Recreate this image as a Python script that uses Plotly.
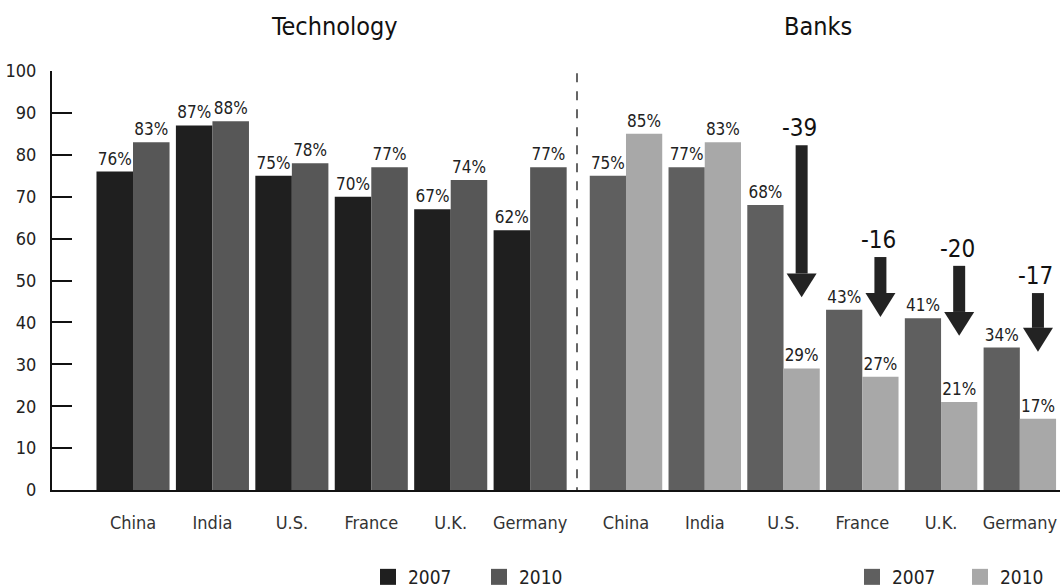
import plotly.graph_objects as go

# Share of respondents (%) by country, 2007 vs 2010
countries = ["China", "India", "U.S.", "France", "U.K.", "Germany"]
tech_2007 = [76, 87, 75, 70, 67, 62]
tech_2010 = [83, 88, 78, 77, 74, 77]
bank_2007 = [75, 77, 68, 43, 41, 34]
bank_2010 = [85, 83, 29, 27, 21, 17]

# Drop arrows over the bank bars (label, top of shaft, arrow tip on the y scale)
drop_countries = ["U.S.", "France", "U.K.", "Germany"]
drop_labels = ["-39", "-16", "-20", "-17"]
drop_top = [82.3, 55.6, 53.5, 47.0]
drop_tip = [46.0, 41.3, 36.8, 33.0]

FONT = ("Liberation Sans Narrow, Noto Sans Condensed, Noto Sans SemiCondensed, "
        "DejaVu Sans Condensed, Roboto Condensed, Arial Narrow, Roboto, sans-serif")
C_T07, C_T10 = "#1f1f1f", "#575757"
C_B07, C_B10 = "#5f5f5f", "#a8a8a8"
BARGAP = 0.08

W, H = 1060, 588
ML, MR, MT, MB = 52, 0, 71, 98
PW = W - ML - MR
PH = H - MT - MB
SPLIT = (577 - ML) / PW  # paper x where the two panels meet


def px(x):
    """pixel column -> paper x"""
    return (x - ML) / PW


def py(y):
    """pixel row -> paper y"""
    return (H - MB - y) / PH


fig = go.Figure()


def add_bars(vals, name, color, xaxis, legend):
    fig.add_trace(go.Bar(
        x=countries, y=vals, name=name, xaxis=xaxis, yaxis="y",
        marker=dict(color=color, line=dict(width=0)),
        text=[f"{v}%" for v in vals], textposition="outside",
        texttemplate="%{text}", constraintext="none", cliponaxis=False,
        textfont=dict(family=FONT, size=17, color="#222"),
        showlegend=False,
    ))
    # legend swatch
    fig.add_trace(go.Scatter(
        x=[None], y=[None], mode="markers", name=name, xaxis=xaxis, yaxis="y",
        marker=dict(symbol="square", size=20, color=color), legend=legend,
    ))


add_bars(tech_2007, "2007", C_T07, "x", "legend")
add_bars(tech_2010, "2010", C_T10, "x", "legend")
add_bars(bank_2007, "2007", C_B07, "x2", "legend2")
add_bars(bank_2010, "2010", C_B10, "x2", "legend2")

axis_common = dict(
    type="category", showline=True, linecolor="#111", linewidth=2,
    showgrid=False, zeroline=False, ticks="", ticklabelstandoff=15,
    tickfont=dict(family=FONT, size=18, color="#333"), anchor="y",
)

# where the 2010 bar sits inside each group
off_2010 = (1 - BARGAP) / 4
head_len = 5.7  # arrowhead length in y units
shapes = [dict(type="line", xref="paper", yref="y", x0=SPLIT, x1=SPLIT, y0=-1.5, y1=100,
               line=dict(color="#333", width=1.5, dash="dash"))]
annotations = [
    dict(text="Technology", xref="paper", yref="paper", x=px(334), y=py(26),
         xanchor="center", yanchor="middle", showarrow=False,
         font=dict(family=FONT, size=25, color="#111")),
    dict(text="Banks", xref="paper", yref="paper", x=px(818), y=py(26),
         xanchor="center", yanchor="middle", showarrow=False,
         font=dict(family=FONT, size=25, color="#111")),
]
for c, lab, top, tip in zip(drop_countries, drop_labels, drop_top, drop_tip):
    xa = countries.index(c) + off_2010
    hs = tip + head_len
    shapes.append(dict(type="rect", xref="x2", yref="y", xsizemode="pixel", xanchor=xa,
                       x0=-6, x1=6, y0=hs, y1=top, fillcolor="#232323", line=dict(width=0)))
    shapes.append(dict(type="path", xref="x2", yref="y", xsizemode="pixel", xanchor=xa,
                       path=f"M -15,{hs} L 15,{hs} L 0,{tip} Z",
                       fillcolor="#232323", line=dict(width=0)))
    annotations.append(dict(text=lab, xref="x2", yref="y", x=xa, y=top,
                            xanchor="center", yanchor="bottom",
                            xshift=-2, yshift=1, showarrow=False,
                            font=dict(family=FONT, size=24, color="#111")))

legend_common = dict(orientation="h", yanchor="middle", xanchor="left",
                     font=dict(family=FONT, size=19, color="#222"),
                     bgcolor="rgba(0,0,0,0)", itemwidth=30, entrywidthmode="pixels")

fig.update_layout(
    width=W, height=H, autosize=False,
    margin=dict(l=ML, r=MR, t=MT, b=MB, autoexpand=False),
    paper_bgcolor="white", plot_bgcolor="white",
    barmode="group", bargap=BARGAP, bargroupgap=0,
    xaxis=dict(domain=[0, SPLIT], range=[-1.02, 5.59], **axis_common),
    xaxis2=dict(domain=[SPLIT, 1], range=[-0.622, 5.51], **axis_common),
    yaxis=dict(range=[0, 100], dtick=10, showline=True, linecolor="#111", linewidth=2,
               ticks="inside", ticklen=20, tickwidth=2, tickcolor="#111",
               showgrid=False, zeroline=False, ticklabelstandoff=10,
               tickfont=dict(family=FONT, size=18, color="#222")),
    legend=dict(x=px(368), y=py(577), entrywidth=66, **legend_common),
    legend2=dict(x=px(852), y=py(577), entrywidth=63, **legend_common),
    shapes=shapes, annotations=annotations,
    showlegend=True,
)

fig.write_html("out.html")
